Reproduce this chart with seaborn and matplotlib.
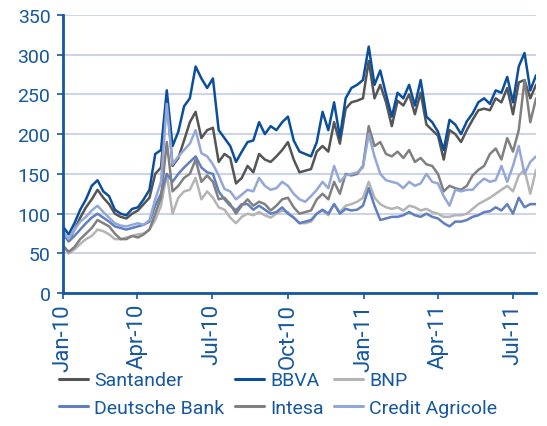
import numpy as np
import pandas as pd
import matplotlib
matplotlib.use("Agg")
import matplotlib.pyplot as plt
import matplotlib.dates as mdates
import seaborn as sns

sns.set_style("white")
plt.rcParams['font.family'] = ['Roboto', 'DejaVu Sans']

# weekly observations, Jan 2010 - Jul 2011
dates = pd.date_range("2010-01-01", "2011-07-29", freq="W-FRI")

santander = [78, 66, 80, 95, 108, 118, 130, 120, 112, 100, 96, 94, 100, 104, 112, 120,
             150, 158, 245, 160, 170, 192, 215, 228, 195, 205, 208, 165, 175, 170, 138, 145,
             160, 152, 175, 168, 165, 172, 180, 190, 168, 152, 154, 156, 178, 185, 178, 215,
             188, 232, 240, 242, 245, 292, 245, 262, 240, 210, 242, 236, 250, 225, 252, 212,
             205, 198, 168, 205, 200, 190, 205, 218, 230, 232, 230, 245, 240, 258, 225, 265,
             268, 245, 262]
bbva = [84, 74, 88, 105, 118, 135, 142, 128, 122, 105, 100, 98, 106, 108, 118, 130,
        175, 180, 255, 185, 203, 235, 245, 285, 270, 258, 270, 205, 195, 185, 165, 178,
        190, 192, 215, 200, 210, 205, 215, 222, 192, 178, 175, 172, 190, 228, 205, 240,
        196, 245, 258, 262, 268, 310, 262, 280, 250, 222, 252, 245, 262, 236, 268, 222,
        215, 203, 180, 218, 212, 200, 216, 226, 240, 245, 238, 255, 252, 272, 240, 285,
        302, 255, 274]
bnp = [60, 50, 55, 62, 68, 72, 80, 78, 74, 68, 68, 70, 72, 74, 75, 80,
       92, 110, 150, 100, 120, 128, 130, 145, 118, 128, 120, 108, 105, 95, 88, 96,
       100, 98, 102, 98, 95, 100, 104, 102, 95, 88, 88, 90, 100, 104, 98, 112,
       102, 110, 112, 115, 120, 140, 120, 112, 108, 106, 108, 104, 110, 108, 104, 106,
       102, 100, 96, 96, 98, 98, 100, 106, 112, 116, 120, 125, 130, 135, 128, 148,
       155, 125, 155]
deutsche = [75, 65, 72, 80, 88, 95, 100, 95, 90, 84, 82, 80, 82, 84, 86, 90,
            110, 125, 150, 140, 150, 158, 165, 172, 158, 152, 150, 128, 118, 110, 104, 112,
            112, 105, 110, 105, 100, 102, 108, 100, 95, 88, 90, 92, 100, 105, 100, 112,
            100, 106, 104, 105, 110, 132, 110, 92, 94, 96, 96, 98, 102, 98, 96, 100,
            96, 94, 88, 84, 90, 90, 92, 96, 98, 102, 103, 108, 104, 112, 100, 120,
            108, 112, 112]
intesa = [60, 52, 58, 68, 75, 82, 92, 88, 84, 75, 68, 68, 72, 70, 74, 80,
          100, 120, 190, 128, 135, 145, 150, 168, 140, 148, 140, 118, 120, 112, 100, 110,
          118, 110, 115, 112, 104, 110, 118, 120, 108, 100, 102, 104, 118, 125, 118, 140,
          125, 150, 148, 150, 160, 210, 185, 190, 175, 172, 178, 170, 180, 165, 170, 162,
          160, 150, 128, 135, 132, 130, 135, 148, 155, 160, 175, 182, 168, 195, 178, 205,
          268, 215, 245]
credit_agricole = [78, 68, 80, 90, 96, 104, 110, 102, 95, 88, 85, 84, 86, 88, 86, 92,
                   118, 140, 238, 162, 172, 180, 188, 205, 176, 172, 162, 148, 131, 128, 118, 124,
                   130, 128, 145, 135, 130, 132, 140, 135, 125, 118, 115, 122, 130, 140, 132, 160,
                   140, 148, 150, 152, 158, 200, 172, 150, 142, 140, 138, 132, 140, 135, 138, 150,
                   140, 138, 122, 110, 130, 128, 130, 130, 138, 144, 140, 142, 160, 140, 160, 185,
                   150, 165, 172]

banks = ["Santander", "BBVA", "BNP", "Deutsche Bank", "Intesa", "Credit Agricole"]
series = [santander, bbva, bnp, deutsche, intesa, credit_agricole]
colors = ["#555555", "#0b4f9c", "#b4b4b4", "#5f7fc0", "#808080", "#93a8d8"]

frames = []
for name, vals in zip(banks, series):
    frames.append(pd.DataFrame({"date": dates, "value": vals, "bank": name}))
df = pd.concat(frames, ignore_index=True)

blue = "#15589f"

fig = plt.figure(figsize=(5.47, 4.27), dpi=100)
ax = fig.add_axes([0.115, 0.311, 0.865, 0.652])

sns.lineplot(data=df, x="date", y="value", hue="bank", hue_order=banks,
             palette=dict(zip(banks, colors)), linewidth=1.8, ax=ax)

ax.set_ylim(0, 350)
ax.set_yticks(range(0, 351, 50))
ax.set_xlim(dates[0], dates[-1])
ax.xaxis.set_major_locator(mdates.MonthLocator(bymonth=[1, 4, 7, 10]))
ax.xaxis.set_major_formatter(mdates.DateFormatter("%b-%y"))
ax.grid(axis="y", color="#c3cce6", linewidth=1.2)
ax.grid(axis="x", visible=False)
ax.set_axisbelow(True)

for s in ["top", "right"]:
    ax.spines[s].set_visible(False)
for s in ["left", "bottom"]:
    ax.spines[s].set_color(blue)
    ax.spines[s].set_linewidth(2)

ax.tick_params(axis="both", colors=blue, length=4, width=1.2,
               direction="out", left=True, bottom=True)
ax.tick_params(axis="y", labelsize=14, pad=5)
ax.tick_params(axis="x", labelsize=16, pad=3)
plt.setp(ax.get_xticklabels(), rotation=90)
ax.set_xlabel("")
ax.set_ylabel("")

handles, labels = ax.get_legend_handles_labels()
ax.get_legend().remove()
# legend fills column by column, so reorder to get the rows right
order = [0, 3, 1, 4, 2, 5]
leg = fig.legend([handles[i] for i in order], [labels[i] for i in order],
                 loc="upper left", bbox_to_anchor=(0.108, 0.128),
                 ncol=3, frameon=False, fontsize=14, handlelength=1.5,
                 handletextpad=0.3, columnspacing=0.55, labelspacing=0.5,
                 borderpad=0, borderaxespad=0)
for t in leg.get_texts():
    t.set_color(blue)
for h in leg.get_lines():
    h.set_linewidth(2.2)

fig.savefig("out.png", dpi=100)
